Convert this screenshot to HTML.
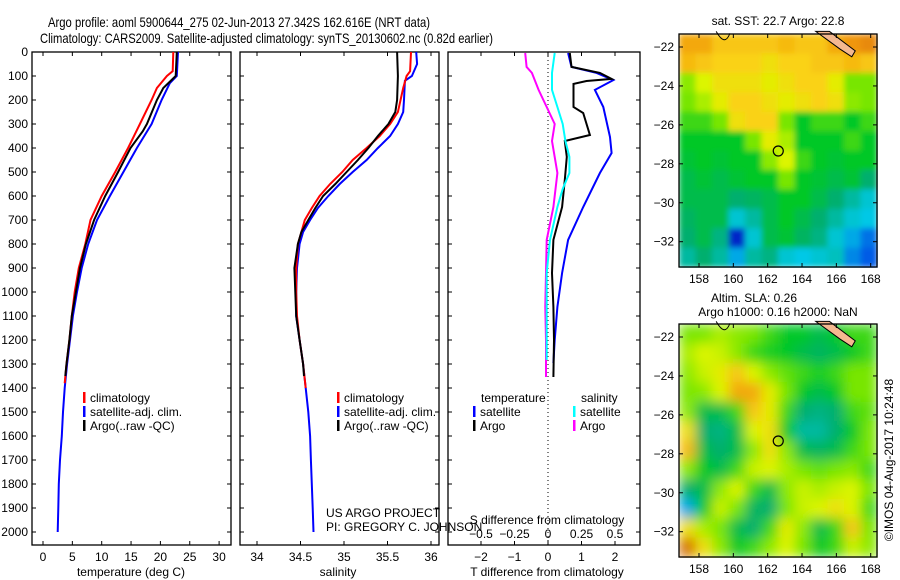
<!DOCTYPE html>
<html><head><meta charset="utf-8"><style>
body{margin:0;background:#fff;}
svg{display:block;font-family:"Liberation Sans",sans-serif;}
text{fill:#000;}
</style></head><body>
<svg id="c" width="900" height="580" viewBox="0 0 900 580">
<defs>
<filter id="blurS" x="0" y="0" width="1" height="1"><feGaussianBlur stdDeviation="3" edgeMode="duplicate"/></filter>
<filter id="blurL" x="0" y="0" width="1" height="1"><feGaussianBlur stdDeviation="6" edgeMode="duplicate"/></filter>
</defs>
</svg>
<script>
// ---------- data ----------
const tDepthRed=[0,80,100,150,200,300,400,500,600,700,800,900,1000,1100,1200,1300,1380];
const tRed=[22.2,22.1,21.1,19.4,18.5,16.5,14.5,12.3,10.0,8.1,7.2,6.1,5.4,4.9,4.5,4.0,3.7];
const tDepthBlue=[0,100,130,200,300,400,500,600,700,800,900,1000,1100,1200,1300,1400,1500,1600,1700,1800,1900,2000];
const tBlue=[23.0,22.8,21.6,20.2,18.5,16.0,13.7,11.4,9.2,7.7,6.6,5.8,5.1,4.6,4.1,3.7,3.4,3.2,2.9,2.7,2.6,2.5];
const tDepthBlack=[0,100,150,200,300,330,400,500,600,700,800,900,1000,1100,1200,1300,1350];
const tBlack=[22.8,22.6,20.5,19.4,17.7,17.0,14.9,12.8,10.6,8.7,7.3,6.3,5.6,4.9,4.5,4.0,3.8];
const sDepthRed=[0,80,100,150,250,300,350,400,450,500,550,600,650,700,750,800,900,1000,1100,1200,1300,1400];
const sRed=[35.77,35.76,35.72,35.68,35.62,35.53,35.41,35.26,35.10,34.98,34.84,34.72,34.63,34.55,34.51,34.47,34.45,34.45,34.46,34.49,34.53,34.56];
const sDepthBlue=[0,50,100,120,200,250,300,350,400,450,500,550,600,650,700,750,800,900,1000,1100,1200,1300,1400,1500,1600,1700,1800,1900,2000];
const sBlue=[35.83,35.84,35.78,35.70,35.69,35.68,35.62,35.53,35.39,35.26,35.10,34.95,34.82,34.70,34.61,34.53,34.49,34.46,34.45,34.45,34.49,34.53,34.56,34.59,34.61,34.62,34.63,34.64,34.65];
const sDepthBlack=[0,100,200,250,300,350,400,450,500,550,600,650,700,750,800,900,1000,1100,1200,1300,1350];
const sBlack=[35.61,35.62,35.61,35.59,35.51,35.39,35.28,35.16,35.03,34.90,34.76,34.67,34.59,34.51,34.47,34.43,34.44,34.45,34.49,34.53,34.54];
const dDepthT=[4,62,87,117,158,229,354,421,504,646,783,921,1062,1200,1296];
const dTsat=[0.6,0.7,1.45,1.95,1.4,1.65,1.85,1.9,1.55,1.05,0.6,0.42,0.28,0.2,0.16];
const dDepthArgo=[4,62,87,112,121,133,229,254,346,371,437,533,646,783,921,1062,1200,1354];
const dTargo=[0.65,0.7,1.55,1.9,1.15,0.76,0.76,1.05,1.25,0.5,0.56,0.5,0.42,0.16,0.12,0.16,0.18,0.16];
const dDepthS=[4,62,87,158,229,300,371,504,646,783,921,1062,1200,1354];
const dSargo=[-0.17,-0.16,-0.12,-0.07,-0.01,0.05,0.03,0.07,0.04,-0.01,-0.015,-0.02,-0.015,-0.015];
const dDepthSs=[4,87,158,229,300,371,437,504,571,646,783,921,1062,1200,1283];
const dSsat=[0.05,0.03,0.03,0.07,0.11,0.13,0.16,0.16,0.11,0.07,0.015,-0.01,-0.01,-0.01,-0.01];
const depthTicks=[0,100,200,300,400,500,600,700,800,900,1000,1100,1200,1300,1400,1500,1600,1700,1800,1900,2000];
const tempTicks=[0,5,10,15,20,25,30];
const salTicks=[34,34.5,35,35.5,36];
const tdTicks=[-2,-1,0,1,2];
const sdTicks=[-0.5,-0.25,0,0.25,0.5];
const lonTicks=[158,160,162,164,166,168];
const latTicks=[-22,-24,-26,-28,-30,-32];
const sstGrid=[
[0.85,0.85,0.8,0.8,0.8,0.8,0.82,0.8,0.8,0.85,0.88,0.9],
[0.82,0.8,0.78,0.78,0.78,0.75,0.78,0.78,0.8,0.8,0.82,0.8],
[0.62,0.7,0.75,0.75,0.75,0.72,0.75,0.78,0.78,0.72,0.6,0.6],
[0.6,0.65,0.72,0.78,0.78,0.75,0.72,0.75,0.78,0.75,0.62,0.6],
[0.55,0.55,0.6,0.75,0.78,0.78,0.6,0.5,0.55,0.55,0.5,0.55],
[0.5,0.5,0.5,0.5,0.6,0.72,0.65,0.5,0.5,0.5,0.55,0.5],
[0.48,0.5,0.48,0.5,0.5,0.62,0.7,0.55,0.5,0.48,0.5,0.5],
[0.45,0.48,0.45,0.48,0.5,0.5,0.6,0.5,0.48,0.45,0.48,0.4],
[0.45,0.45,0.45,0.4,0.42,0.45,0.5,0.5,0.45,0.4,0.35,0.3],
[0.42,0.45,0.45,0.3,0.35,0.45,0.5,0.45,0.4,0.35,0.3,0.28],
[0.4,0.45,0.38,0.1,0.3,0.45,0.48,0.42,0.38,0.3,0.25,0.2],
[0.35,0.4,0.35,0.25,0.35,0.38,0.3,0.28,0.3,0.32,0.22,0.18]];
const slaGrid=[
[0.6,0.6,0.65,0.62,0.6,0.55,0.5,0.5,0.45,0.5,0.55,0.55],
[0.65,0.7,0.68,0.62,0.55,0.52,0.5,0.45,0.42,0.45,0.5,0.55],
[0.62,0.68,0.72,0.8,0.7,0.62,0.58,0.55,0.52,0.55,0.6,0.6],
[0.6,0.62,0.7,0.85,0.85,0.72,0.6,0.5,0.45,0.5,0.6,0.6],
[0.62,0.45,0.45,0.55,0.8,0.72,0.55,0.4,0.38,0.4,0.55,0.58],
[0.75,0.4,0.38,0.45,0.7,0.75,0.5,0.35,0.35,0.4,0.5,0.6],
[0.82,0.45,0.4,0.45,0.62,0.75,0.62,0.45,0.42,0.45,0.55,0.6],
[0.62,0.5,0.45,0.55,0.68,0.7,0.65,0.6,0.58,0.6,0.62,0.55],
[0.4,0.45,0.62,0.7,0.55,0.45,0.62,0.68,0.65,0.68,0.7,0.6],
[0.25,0.5,0.68,0.6,0.42,0.4,0.6,0.68,0.7,0.75,0.7,0.55],
[0.75,0.65,0.6,0.45,0.4,0.55,0.72,0.62,0.45,0.55,0.8,0.6],
[0.95,0.75,0.62,0.5,0.55,0.62,0.7,0.6,0.5,0.55,0.68,0.62]];
const argoLon=162.616, argoLat=-27.342;

// ---------- helpers ----------
const NS="http://www.w3.org/2000/svg";
const svg=document.getElementById('c');
function mk(tag,attrs,parent){const e=document.createElementNS(NS,tag);for(const k in attrs)e.setAttribute(k,attrs[k]);(parent||svg).appendChild(e);return e;}
function txt(x,y,s,anchor,size,parent){const e=mk('text',{x:x,y:y,'text-anchor':anchor||'start','font-size':size||12},parent);e.textContent=s;return e;}
const TOP=52,BOT=545;
const Y=d=>52+d*0.24;
const xT=v=>43+v*5.87;
const xS=v=>257+(v-34)*87;
const xTd=v=>548+v*33.5;
const xSd=v=>548+v*134;
function line(depths,vals,fx,color,w,name){
  const pts=depths.map((d,i)=>fx(vals[i]).toFixed(1)+','+Y(d).toFixed(1)).join(' ');
  const p=mk('polyline',{points:pts,fill:'none',stroke:color,'stroke-width':w});
  
  
}
function frame(x0,x1,name){
  const r=mk('rect',{x:x0,y:TOP,width:x1-x0,height:BOT-TOP,fill:'none',stroke:'#000','stroke-width':1.3});
  
  
}
// titles
const t1=txt(48,27,'Argo profile: aoml 5900644_275 02-Jun-2013 27.342S 162.616E (NRT data)','start',14);
t1.setAttribute('textLength',382);t1.setAttribute('lengthAdjust','spacingAndGlyphs');
const t2=txt(40,43,'Climatology: CARS2009. Satellite-adjusted climatology: synTS_20130602.nc (0.82d earlier)','start',14);
t2.setAttribute('textLength',453);t2.setAttribute('lengthAdjust','spacingAndGlyphs');

// panels
frame(32,231,'temperature-panel');frame(240,439,'salinity-panel');frame(448,640,'difference-panel');
// depth ticks
depthTicks.forEach(d=>{
  const l=txt(28,Y(d)+4,String(d),'end',12);
  
  [[32,36],[227,231],[240,244],[435,439],[448,452],[636,640]].forEach(p=>mk('line',{x1:p[0],x2:p[1],y1:Y(d),y2:Y(d),stroke:'#000'}));
});
function xticks(ticks,fx,ylab,labels,name){
  ticks.forEach((v,i)=>{
    mk('line',{x1:fx(v),x2:fx(v),y1:BOT,y2:BOT-4,stroke:'#000'});
    mk('line',{x1:fx(v),x2:fx(v),y1:TOP,y2:TOP+4,stroke:'#000'});
    const l=txt(fx(v),ylab,labels?labels[i]:String(v),'middle',12);
    
  });
}
xticks(tempTicks,xT,561,null,'temperature-tick-label');
xticks(salTicks,xS,561,null,'salinity-tick-label');
xticks(tdTicks,xTd,561,['−2','−1','0','1','2'],'t-diff-tick-label');
sdTicks.forEach((v,i)=>{const l=txt(xSd(v),538,['−0.5','−0.25','0','0.25','0.5'][i],'middle',12);
  });
let a;
a=txt(131,576,'temperature (deg C)','middle',12);
a=txt(338,576,'salinity','middle',12);
a=txt(547,576,'T difference from climatology','middle',12);
a=txt(547,524,'S difference from climatology','middle',12);
// zero line
mk('line',{x1:548,x2:548,y1:TOP,y2:BOT,stroke:'#000','stroke-dasharray':'1,3'});

// series
line(tDepthBlue,tBlue,xT,'#0000ff',2,'temp-satellite-line');
line(tDepthRed,tRed,xT,'#ff0000',2,'temp-climatology-line');
line(tDepthBlack,tBlack,xT,'#000',2,'temp-argo-line');
line(sDepthBlue,sBlue,xS,'#0000ff',2,'sal-satellite-line');
line(sDepthRed,sRed,xS,'#ff0000',2,'sal-climatology-line');
line(sDepthBlack,sBlack,xS,'#000',2,'sal-argo-line');
line(dDepthT,dTsat,xTd,'#0000ff',2,'tdiff-satellite-line');
line(dDepthArgo,dTargo,xTd,'#000',2,'tdiff-argo-line');
line(dDepthS,dSargo,xSd,'#ff00ff',2,'sdiff-argo-line');
line(dDepthSs,dSsat,xSd,'#00ffff',2,'sdiff-satellite-line');

// legends
function leg(x,y,color,label,name){
  mk('rect',{x:x,y:y-10,width:2.5,height:11,fill:color});
  const l=txt(x+7,y,label,'start',12);
  
}
[[83,'temperature'],[337,'salinity']].forEach(p=>{
  leg(p[0],402,'#ff0000','climatology','legend-climatology-'+p[1]);
  leg(p[0],416,'#0000ff','satellite-adj. clim.','legend-satellite-'+p[1]);
  leg(p[0],430,'#000','Argo(..raw -QC)','legend-argo-'+p[1]);
});
a=txt(481,402,'temperature','start',12);
a=txt(581,402,'salinity','start',12);
leg(473,416,'#0000ff','satellite','legend-tdiff-satellite');
leg(473,430,'#000','Argo','legend-tdiff-argo');
leg(573,416,'#00ffff','satellite','legend-sdiff-satellite');
leg(573,430,'#ff00ff','Argo','legend-sdiff-argo');
a=txt(326,517,'US ARGO PROJECT','start',12);
a=txt(326,531,'PI: GREGORY C. JOHNSON','start',12);

// ---------- maps ----------
const stops=[[0,[0,0,140]],[0.15,[0,60,230]],[0.28,[0,200,230]],[0.4,[0,175,110]],[0.5,[0,200,40]],[0.6,[120,230,0]],[0.7,[220,245,0]],[0.78,[250,210,20]],[0.88,[240,150,10]],[1,[190,80,0]]];
function cmap(v){
  for(let i=1;i<stops.length;i++){if(v<=stops[i][0]){const a=stops[i-1],b=stops[i],f=(v-a[0])/(b[0]-a[0]);
    return 'rgb('+a[1].map((c,k)=>Math.round(c+(b[1][k]-c)*f)).join(',')+')';}}
  return 'rgb(190,80,0)';
}
function map(top,bottom,grid,name,filt){
  const L=679,R=877;
  const lx=v=>699+(v-158)*17.17;
  const ly=v=>(top+13)+(-22-v)*19.47;
  const g=mk('g',{});
  
  const cells=mk('g',{filter:'url(#'+filt+')'},g);
  const nr=grid.length,nc=grid[0].length,cw=(R-L)/nc,ch=(bottom-top)/nr;
  grid.forEach((row,r)=>row.forEach((v,c)=>{
    const cell=mk('rect',{x:L+c*cw,y:top+r*ch,width:cw+0.6,height:ch+0.6,fill:cmap(v)},cells);
    
    
  }));
  mk('path',{d:`M${lx(164.8)} ${ly(-21.2)} L${lx(165.6)} ${ly(-21.2)} L${lx(167.1)} ${ly(-22.2)} L${lx(166.9)} ${ly(-22.5)} L${lx(166.2)} ${ly(-22.1)} Z`,fill:'#f4b890',stroke:'#000','stroke-width':1},g);
  mk('path',{d:`M${lx(159.0)} ${ly(-21.2)} Q${lx(159.5)} ${ly(-22.0)} ${lx(159.8)} ${ly(-21.3)}`,fill:'none',stroke:'#000','stroke-width':1},g);
  mk('rect',{x:L,y:top,width:R-L,height:bottom-top,fill:'none',stroke:'#000','stroke-width':1.3},g);
  lonTicks.forEach(v=>{mk('line',{x1:lx(v),x2:lx(v),y1:bottom,y2:bottom-4,stroke:'#000'},g);mk('line',{x1:lx(v),x2:lx(v),y1:top,y2:top+4,stroke:'#000'},g);
    const l=txt(lx(v),bottom+16,String(v),'middle',12,g);});
  latTicks.forEach(v=>{mk('line',{x1:L,x2:L+4,y1:ly(v),y2:ly(v),stroke:'#000'},g);mk('line',{x1:R-4,x2:R,y1:ly(v),y2:ly(v),stroke:'#000'},g);
    const l=txt(L-5,ly(v)+4,String(v).replace('-','−'),'end',12,g);});
  const m=mk('circle',{cx:lx(argoLon),cy:ly(argoLat),r:5,fill:'none',stroke:'#000','stroke-width':1.2},g);
  
}
map(34,267,sstGrid,'sst-map','blurS');
map(324,557,slaGrid,'sla-map','blurL');
a=txt(778,25,'sat. SST: 22.7 Argo: 22.8','middle',12);
a=txt(754,302,'Altim. SLA: 0.26','middle',12);
a=txt(778,316,'Argo h1000: 0.16 h2000: NaN','middle',12);
a=txt(0,0,'©IMOS 04-Aug-2017 10:24:48','middle',12);a.setAttribute('transform','translate(893,460) rotate(-90)');

</script>
</body></html>
